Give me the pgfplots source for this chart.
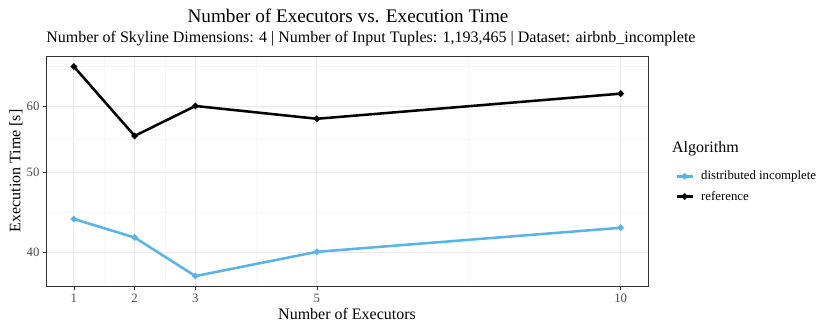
\documentclass[border=0pt]{standalone}
\usepackage{fontspec}
\setmainfont{Liberation Serif}
\usepackage{pgfplots}
\pgfplotsset{compat=1.18}

\definecolor{skyblue}{HTML}{56B4E9}
\definecolor{gridmaj}{HTML}{EBEBEB}
\definecolor{gridmin}{HTML}{F5F5F5}

\begin{document}
\begin{tikzpicture}
\useasboundingbox (-34.9pt,-34pt) rectangle ++(622.5pt,249pt);
\begin{axis}[
    at={(0,0)}, anchor=south west,
    scale only axis,
    width=451.1pt, height=173pt,
    xmin=0.55, xmax=10.45,
    ymode=log,
    ymin=36.38, ymax=69.06,
    xtick={1,2,3,5,10},
    ytick={40,50,60},
    yticklabels={40,50,60},
    minor xtick={1.5,2.5,4,7.5},
    minor ytick={44.72,54.77,67.08},
    minor tick length=0pt,
    major tick length=2.75pt,
    tick align=outside,
    tick pos=left,
    grid=both,
    major grid style={draw=gridmaj, line width=0.8pt},
    minor grid style={draw=gridmin, line width=0.45pt},
    axis line style={draw=black!80, line width=0.5pt},
    tick style={draw=black!80, line width=0.5pt},
    /pgf/number format/assume math mode=true,
    ticklabel style={font=\fontsize{9.6}{11}\selectfont, text=black!70},
    xticklabel style={yshift=1pt},
    yticklabel style={xshift=1pt},
    legend style={at={(1.045,0.515)}, anchor=north west, draw=none, fill=none,
        font=\fontsize{9.6}{11}\selectfont, row sep=3pt, column sep=3.5pt, inner sep=0pt},
    legend cell align=left,
    legend image code/.code={%
        \draw[#1, mark repeat=2, mark phase=2] plot coordinates {(0pt,0pt) (6pt,0pt) (12pt,0pt)};},
]
\addplot[skyblue, line width=1.9pt, mark=*, mark size=1.3pt] coordinates {
    (1,43.9) (2,41.7) (3,37.46) (5,40.07) (10,42.84)
};
\addlegendentry{distributed incomplete}
\addplot[black, line width=1.9pt, mark=*, mark size=1.3pt] coordinates {
    (1,67.07) (2,55.3) (3,60.1) (5,58.0) (10,62.2)
};
\addlegendentry{reference}
\end{axis}
% titles and labels
\node[font=\fontsize{14.4}{16}\selectfont] at (226.1pt,203pt) {Number of Executors vs. Execution Time};
\node[anchor=west, inner sep=0pt, font=\fontsize{12}{14}\selectfont] at (-0.4pt,185.8pt) {Number of Skyline Dimensions: 4 | Number of Input Tuples: 1,193,465 | Dataset: airbnb\_incomplete};
\node[font=\fontsize{12}{14}\selectfont] at (225.4pt,-20.5pt) {Number of Executors};
\node[font=\fontsize{12}{14}\selectfont, rotate=90] at (-22.9pt,86.8pt) {Execution Time [s]};
\node[anchor=west, inner sep=0pt, font=\fontsize{12}{14}\selectfont] at (469pt,103.5pt) {Algorithm};
\end{tikzpicture}
\end{document}
